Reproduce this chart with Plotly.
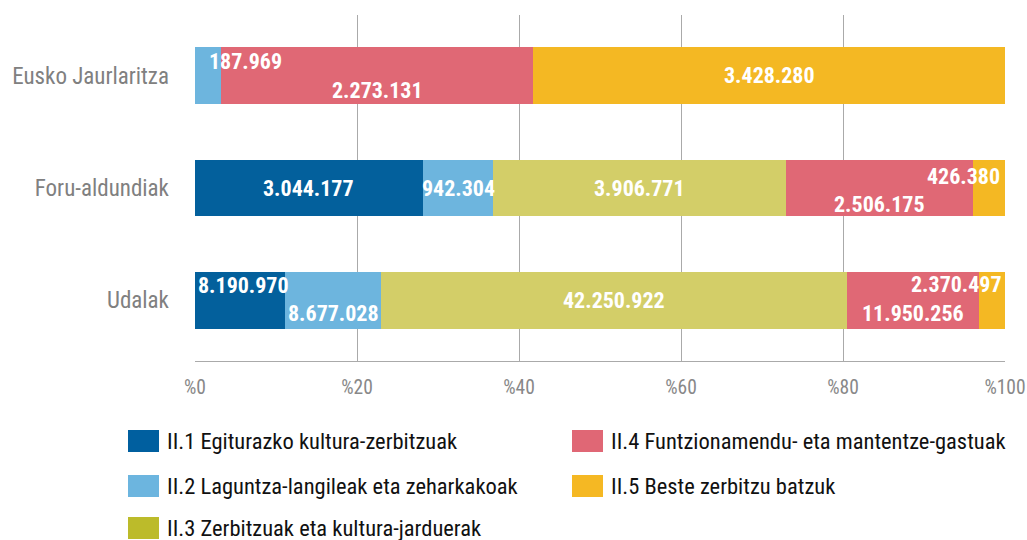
import plotly.graph_objects as go

# ---- data ----
categories = ["Eusko Jaurlaritza", "Foru-aldundiak", "Udalak"]
series_names = [
    "II.1 Egiturazko kultura-zerbitzuak",
    "II.2 Laguntza-langileak eta zeharkakoak",
    "II.3 Zerbitzuak eta kultura-jarduerak",
    "II.4 Funtzionamendu- eta mantentze-gastuak",
    "II.5 Beste zerbitzu batzuk",
]
ii1 = [0, 3044177, 8190970]
ii2 = [187969, 942304, 8677028]
ii3 = [0, 3906771, 42250922]
ii4 = [2273131, 2506175, 11950256]
ii5 = [3428280, 426380, 2370497]
series_values = [ii1, ii2, ii3, ii4, ii5]
tick_values = [0, 20, 40, 60, 80, 100]
tick_labels = ["%0", "%20", "%40", "%60", "%80", "%100"]

# ---- style ----
bar_colors = ["#03609c", "#6db5de", "#d3ce68", "#e06875", "#f4b823"]
legend_colors = ["#005f9f", "#6cb5df", "#bcbb2a", "#e06775", "#f5b823"]
FONT = "Roboto Condensed, Liberation Sans Narrow, DejaVu Sans Condensed, sans-serif"

# per-label placement: (anchor, xshift, yshift) indexed [series][category]
label_place = [
    [None, ("c", 0, 0), ("c", 3, 15)],
    [("l", 12, 14), ("c", 0, 0), ("c", 0, -13)],
    [None, ("c", 0, 0), ("c", 0, 0)],
    [("c", 0, -15), ("c", 0, -16), ("c", 0, -13)],
    [("c", 0, 0), ("r", -3, 12), ("r", -1, 16)],
]

totals = [sum(s[i] for s in series_values) for i in range(len(categories))]
pcts = [[v / totals[i] * 100 for i, v in enumerate(s)] for s in series_values]

fig = go.Figure()
for k, name in enumerate(series_names):
    fig.add_trace(go.Bar(
        y=categories, x=pcts[k], name=name, orientation="h",
        marker=dict(color=bar_colors[k], line=dict(width=0)),
        width=0.5, showlegend=False, hoverinfo="skip",
    ))

annotations = []
for i, cat in enumerate(categories):
    start = 0.0
    for k in range(len(series_names)):
        v = series_values[k][i]
        p = pcts[k][i]
        spec = label_place[k][i]
        if v > 0 and spec is not None:
            anc, xs, ys = spec
            if anc == "c":
                x, xa = start + p / 2, "center"
            elif anc == "l":
                x, xa = start, "left"
            else:
                x, xa = start + p, "right"
            annotations.append(dict(
                x=x, y=cat, xref="x", yref="y", text=f"{v:,}".replace(",", "."),
                showarrow=False, xanchor=xa, yanchor="middle", xshift=xs, yshift=ys,
                font=dict(family=FONT, size=22, color="white", weight="bold"),
            ))
        start += p

W, H = 1027, 540
PL, PR, PT, PB = 195, 1005, 15, 361  # plot area in page pixels
L, T = PL, PT
R, B = W - PR, H - PB
PW, PH = PR - PL, PB - PT


def px(x):
    return (x - PL) / PW


def py(y):
    return (PB - y) / PH


legend_pos = [(128, 441), (128, 486), (128, 528), (572, 441), (572, 486)]
shapes = []
for k, name in enumerate(series_names):
    x0, yc = legend_pos[k]
    shapes.append(dict(type="rect", xref="paper", yref="paper",
                       x0=px(x0), x1=px(x0 + 31), y0=py(yc - 11), y1=py(yc + 11),
                       fillcolor=legend_colors[k], line=dict(width=0)))
    annotations.append(dict(x=px(x0 + 37), y=py(yc), xref="paper", yref="paper",
                            text=name, showarrow=False, xanchor="left", yanchor="middle",
                            font=dict(family=FONT, size=22.5, color="#111111")))

fig.update_layout(
    width=W, height=H,
    margin=dict(l=L, r=R, t=T, b=B, pad=0, autoexpand=False),
    barmode="stack", bargap=0.5,
    plot_bgcolor="white", paper_bgcolor="white",
    annotations=annotations, shapes=shapes,
    xaxis=dict(range=[0, 100], tickmode="array", tickvals=tick_values, ticktext=tick_labels,
               showgrid=True, gridcolor="#aaaaaa", gridwidth=1, zeroline=False,
               showline=True, linecolor="#aaaaaa", linewidth=1, ticks="",
               ticklabelstandoff=9, ticklabeloverflow="allow", automargin=False,
               tickfont=dict(family=FONT, size=19.5, color="#888888"), fixedrange=True),
    yaxis=dict(type="category", categoryorder="array", categoryarray=categories,
               range=[2.539, -0.539], showgrid=False, zeroline=False, ticks="",
               ticklabelstandoff=25, automargin=False,
               tickfont=dict(family=FONT, size=23, color="#808080"), fixedrange=True),
)

fig.write_html("out.html", config={"displayModeBar": False},
               post_script="document.body.style.margin='0';")
